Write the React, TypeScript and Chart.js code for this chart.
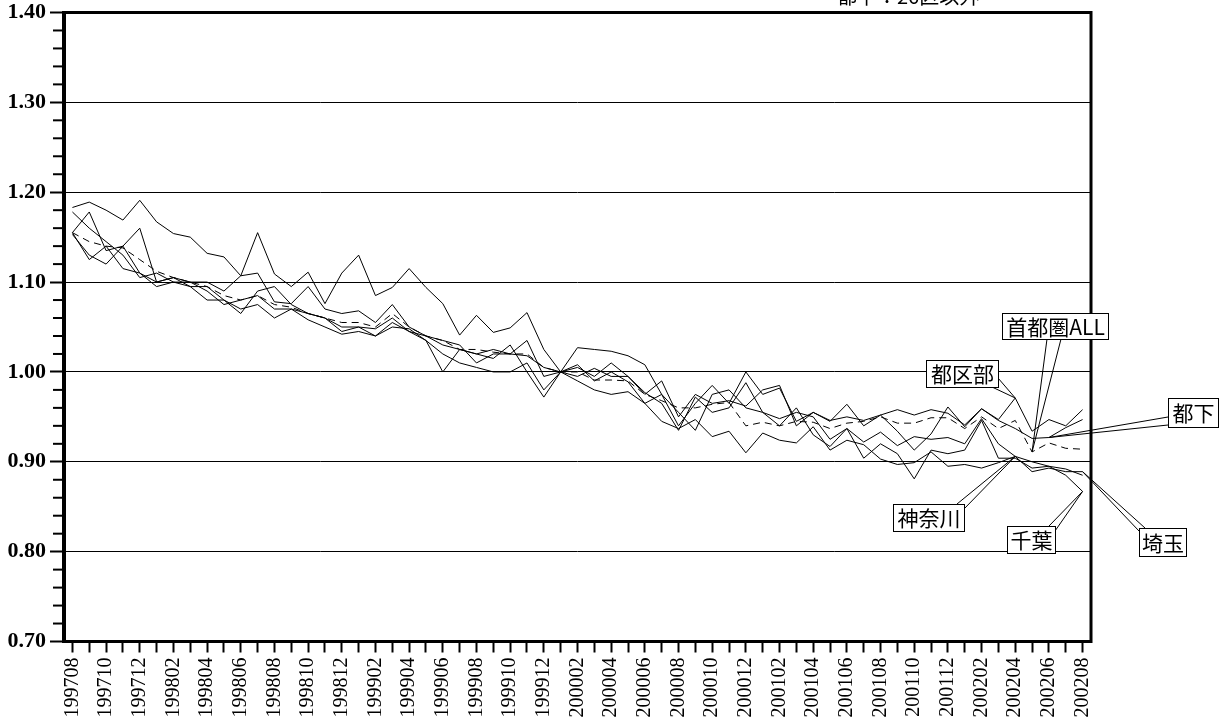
import { useEffect, useRef } from 'react';
import { Chart, registerables } from 'chart.js';

Chart.register(...registerables);

const MONTHS = [
  '199708', '199709', '199710', '199711', '199712',
  '199801', '199802', '199803', '199804', '199805', '199806', '199807', '199808', '199809', '199810', '199811', '199812',
  '199901', '199902', '199903', '199904', '199905', '199906', '199907', '199908', '199909', '199910', '199911', '199912',
  '200001', '200002', '200003', '200004', '200005', '200006', '200007', '200008', '200009', '200010', '200011', '200012',
  '200101', '200102', '200103', '200104', '200105', '200106', '200107', '200108', '200109', '200110', '200111', '200112',
  '200201', '200202', '200203', '200204', '200205', '200206', '200207', '200208',
];

const TOKUBU = [
  1.183, 1.189, 1.180, 1.169, 1.191, 1.167, 1.154, 1.150, 1.132, 1.128, 1.107,
  1.110, 1.078, 1.076, 1.095, 1.070, 1.065, 1.068, 1.055, 1.075, 1.050, 1.040, 1.035, 1.030, 1.010, 1.020, 1.020, 1.035, 0.995,
  1.000,
  1.027, 1.025, 1.023, 1.018, 1.008, 0.975, 0.940, 0.965, 0.985, 0.965, 1.000, 0.975, 0.982, 0.945, 0.955,
  0.945, 0.964, 0.940, 0.952, 0.934, 0.913, 0.931, 0.961, 0.939, 0.959, 0.947, 0.971, 0.934, 0.947, 0.940, 0.958,
];

const TOKA = [
  1.155, 1.178, 1.135, 1.140, 1.160, 1.100, 1.105, 1.100, 1.100, 1.090, 1.107,
  1.155, 1.109, 1.095, 1.111, 1.076, 1.110, 1.130, 1.085, 1.094, 1.115, 1.094, 1.076, 1.041, 1.063, 1.044, 1.049, 1.066, 1.025,
  1.000,
  1.005, 0.995, 1.010, 0.995, 0.975, 0.990, 0.950, 0.975, 0.965, 0.968, 0.962, 0.980, 0.985, 0.940, 0.955,
  0.946, 0.950, 0.946, 0.952, 0.958, 0.952, 0.958, 0.954, 0.941, 0.959, 0.946, 0.937, 0.926, 0.927, 0.938, 0.947,
];

const SHUTOKEN_ALL = [
  1.155, 1.145, 1.140, 1.138, 1.125, 1.112, 1.105, 1.100, 1.095, 1.085, 1.080,
  1.085, 1.075, 1.072, 1.065, 1.060, 1.055, 1.055, 1.050, 1.065, 1.050, 1.040, 1.035, 1.025, 1.025, 1.022, 1.020, 1.020, 1.005,
  1.000,
  1.000, 0.991, 0.991, 0.990, 0.975, 0.968, 0.960, 0.960, 0.964, 0.966, 0.940, 0.944, 0.940, 0.945, 0.944,
  0.937, 0.943, 0.945, 0.950, 0.943, 0.943, 0.949, 0.949, 0.937, 0.950, 0.937, 0.946, 0.911, 0.921, 0.915, 0.914,
];

const KANAGAWA = [
  1.178, 1.160, 1.145, 1.130, 1.105, 1.110, 1.100, 1.100, 1.090, 1.075, 1.080,
  1.085, 1.070, 1.070, 1.065, 1.060, 1.050, 1.050, 1.048, 1.060, 1.045, 1.040, 1.030, 1.025, 1.020, 1.025, 1.020, 1.018, 1.005,
  1.000,
  0.995, 1.004, 0.995, 0.995, 0.977, 0.965, 0.935, 0.972, 0.955, 0.960, 0.988, 0.955, 0.948, 0.955, 0.950,
  0.925, 0.937, 0.922, 0.933, 0.918, 0.928, 0.925, 0.927, 0.920, 0.948, 0.920, 0.906, 0.900, 0.895, 0.892, 0.885,
];

const CHIBA = [
  1.155, 1.125, 1.140, 1.115, 1.110, 1.095, 1.100, 1.095, 1.080, 1.080, 1.065,
  1.090, 1.095, 1.075, 1.065, 1.060, 1.045, 1.050, 1.040, 1.055, 1.045, 1.035, 1.000, 1.025, 1.020, 1.015, 1.030, 1.000, 0.972,
  1.000,
  1.008, 0.990, 1.000, 0.989, 0.965, 0.975, 0.955, 0.935, 0.975, 0.980, 0.960, 0.955, 0.940, 0.960, 0.930,
  0.917, 0.937, 0.904, 0.920, 0.909, 0.881, 0.913, 0.909, 0.913, 0.946, 0.904, 0.904, 0.893, 0.895, 0.885, 0.867,
];

const SAITAMA = [
  1.153, 1.130, 1.120, 1.140, 1.110, 1.100, 1.105, 1.095, 1.095, 1.080, 1.070,
  1.075, 1.060, 1.070, 1.058, 1.050, 1.042, 1.045, 1.040, 1.050, 1.048, 1.035, 1.020, 1.010, 1.005, 1.000, 1.000, 1.010, 0.980,
  1.000,
  0.990, 0.980, 0.975, 0.978, 0.965, 0.945, 0.937, 0.947, 0.928, 0.934, 0.910, 0.932, 0.924, 0.921, 0.939,
  0.913, 0.924, 0.919, 0.903, 0.897, 0.899, 0.911, 0.895, 0.897, 0.893, 0.899, 0.906, 0.889, 0.893, 0.889, 0.889,
];

const SERIES_NAMES = ['都区部', '都下', '首都圏ALL', '神奈川', '千葉', '埼玉'];
const SERIES_VALUES = [TOKUBU, TOKA, SHUTOKEN_ALL, KANAGAWA, CHIBA, SAITAMA];

const NOTE_TEXT = '都下：26区以外';

// callout: which series / month the leader points to, plus box placement
const CALLOUTS = [
  { series: 2, month: '200205', box: [1002, 313, 106, 26], base: [[1047, 339], [1061, 339]] },
  { series: 0, month: '200204', box: [926, 360, 72, 27], base: [[992, 387], [998, 378]] },
  { series: 1, month: '200206', box: [1168, 398, 50, 29], base: [[1168, 417], [1168, 425]] },
  { series: 3, month: '200204', box: [893, 504, 71, 27], base: [[957, 504], [964, 509]] },
  { series: 4, month: '200208', box: [1007, 526, 48, 27], base: [[1049, 526], [1055, 531]] },
  { series: 5, month: '200208', box: [1139, 528, 47, 28], base: [[1139, 531], [1145, 528]] },
];

const SERIF = '"Liberation Serif", "Times New Roman", serif';
const SANS = '"Noto Sans CJK JP", "Noto Sans", sans-serif';

const isMajor = (v: number) => Math.abs(v * 10 - Math.round(v * 10)) < 1e-6;

const decor = {
  id: 'decor',
  afterDraw(chart: any) {
    const { ctx, chartArea, scales } = chart;
    const { left, right, top, bottom } = chartArea;
    ctx.save();
    // minor ticks on y axis
    ctx.strokeStyle = '#000';
    ctx.lineWidth = 2;
    for (let k = 36; k < 70; k++) {
      if (k % 5 === 0) continue;
      const y = scales.y.getPixelForValue(k * 0.02);
      ctx.beginPath();
      ctx.moveTo(left - 11, y);
      ctx.lineTo(left, y);
      ctx.stroke();
    }
    // frame
    ctx.lineWidth = 3;
    ctx.strokeRect(left, top, right - left, bottom - top);
    ctx.lineWidth = 4;
    ctx.beginPath();
    ctx.moveTo(left, top - 1.5);
    ctx.lineTo(left, bottom + 1.5);
    ctx.stroke();

    // note at top
    ctx.fillStyle = '#000';
    ctx.font = '20px ' + SANS;
    ctx.textAlign = 'left';
    ctx.textBaseline = 'alphabetic';
    ctx.fillText(NOTE_TEXT, 837, 4);

    // callouts
    CALLOUTS.forEach((c) => {
      const idx = MONTHS.indexOf(c.month);
      const tx = scales.x.getPixelForValue(idx);
      const ty = scales.y.getPixelForValue(SERIES_VALUES[c.series][idx]);
      ctx.strokeStyle = '#000';
      ctx.lineWidth = 1;
      c.base.forEach(([bx, by]) => {
        ctx.beginPath();
        ctx.moveTo(bx, by);
        ctx.lineTo(tx, ty);
        ctx.stroke();
      });
      const [x, y, w, h] = c.box;
      ctx.fillStyle = '#fff';
      ctx.fillRect(x, y, w, h);
      ctx.strokeRect(x + 0.5, y + 0.5, w, h);
      ctx.fillStyle = '#000';
      ctx.font = '21px ' + SANS;
      ctx.textAlign = 'center';
      ctx.textBaseline = 'middle';
      ctx.fillText(SERIES_NAMES[c.series], x + w / 2 + 0.5, y + h / 2 + 1);
    });
    ctx.restore();
  },
};

export default function App() {
  const ref = useRef<HTMLCanvasElement>(null);
  useEffect(() => {
    document.body.style.margin = '0';
    const chart = new Chart(ref.current as HTMLCanvasElement, {
      type: 'line',
      data: {
        labels: MONTHS,
        datasets: SERIES_VALUES.map((vals, i) => ({
          label: SERIES_NAMES[i],
          data: vals,
          borderColor: '#000',
          borderWidth: 1,
          borderDash: i === 2 ? [7, 5] : [],
          pointRadius: 0,
          fill: false,
          tension: 0,
        })),
      },
      options: {
        responsive: false,
        animation: false,
        layout: { padding: { left: 0, right: 137, top: 12.5, bottom: 0 } },
        plugins: { legend: { display: false }, tooltip: { enabled: false }, title: { display: false } },
        scales: {
          x: {
            type: 'category',
            offset: true,
            border: { display: false },
            grid: {
              display: true,
              drawOnChartArea: false,
              drawTicks: true,
              tickLength: 11,
              tickColor: '#000',
              tickWidth: 2,
              offset: false,
            },
            ticks: {
              autoSkip: false,
              maxRotation: 90,
              minRotation: 90,
              padding: 5,
              color: '#000',
              font: { family: SERIF, size: 20 },
              callback: (_v: any, i: number) => (i % 2 === 0 ? MONTHS[i] : ''),
            },
            afterFit: (s: any) => {
              s.height = 80.5;
              s.paddingLeft = 0;
              s.paddingRight = 0;
            },
          },
          y: {
            min: 0.7,
            max: 1.4,
            border: { display: false },
            grid: {
              color: (c: any) => (c.tick && isMajor(c.tick.value) ? '#000' : 'rgba(0,0,0,0)'),
              lineWidth: 1,
              drawTicks: true,
              tickLength: 14,
              tickColor: (c: any) => (c.tick && isMajor(c.tick.value) ? '#000' : 'rgba(0,0,0,0)'),
              tickWidth: 2,
            },
            ticks: {
              stepSize: 0.02,
              autoSkip: false,
              padding: 4,
              color: '#000',
              font: { family: SERIF, size: 22, weight: 'bold' },
              callback: (v: any) => (isMajor(Number(v)) ? Number(v).toFixed(2) : ''),
            },
            afterFit: (s: any) => {
              s.width = 64;
              s.paddingTop = 0;
              s.paddingBottom = 0;
            },
          },
        },
      },
      plugins: [decor],
    } as any);
    return () => chart.destroy();
  }, []);
  return (
    <div style={{ width: 1228, height: 722, overflow: 'hidden' }}>
      <canvas ref={ref} width={1228} height={722} style={{ display: 'block' }} />
    </div>
  );
}
